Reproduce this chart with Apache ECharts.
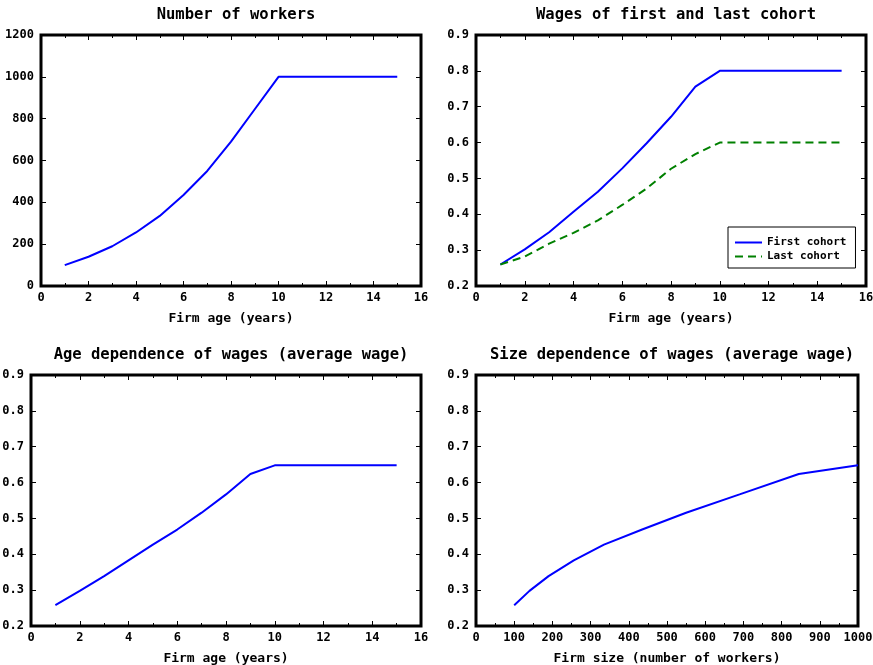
<!DOCTYPE html>
<html><head><meta charset="utf-8">
<script src="https://cdn.jsdelivr.net/npm/echarts@6/dist/echarts.min.js"></script>
<style>html,body{margin:0;padding:0;background:#fff}#c{width:873px;height:665px}</style>
</head><body><div id="c"></div>
<script>
const age = [1,2,3,4,5,6,7,8,9,10,11,12,13,14,15];
const workers = [100,140,190,256,335,435,550,690,845,1000,1000,1000,1000,1000,1000];
const wageFirst = [0.26,0.302,0.35,0.407,0.463,0.528,0.598,0.672,0.756,0.8,0.8,0.8,0.8,0.8,0.8];
const wageLast = [0.26,0.282,0.318,0.348,0.383,0.426,0.472,0.527,0.568,0.6,0.6,0.6,0.6,0.6,0.6];
const wageAvg = [0.258,0.298,0.339,0.383,0.427,0.469,0.516,0.567,0.624,0.648,0.648,0.648,0.648,0.648,0.648];
const titles = ['Number of workers','Wages of first and last cohort','Age dependence of wages (average wage)','Size dependence of wages (average wage)'];
const xNames = ['Firm age (years)','Firm age (years)','Firm age (years)','Firm size (number of workers)'];

const FONT = 'DejaVu Sans Mono';
const pairs = (a,b) => a.map((v,i)=>[v,b[i]]);

const grids = [
  {left:41, top:35, width:380, height:251},
  {left:476, top:35, width:390, height:251},
  {left:31, top:375, width:390, height:251},
  {left:476, top:375, width:382, height:251}
];
const xCfg = [
  {min:0,max:16,interval:2},
  {min:0,max:16,interval:2},
  {min:0,max:16,interval:2},
  {min:0,max:1000,interval:100}
];
const yCfg = [
  {min:0,max:1200,interval:200},
  {min:0.2,max:0.9,interval:0.1},
  {min:0.2,max:0.9,interval:0.1},
  {min:0.2,max:0.9,interval:0.1}
];
const titleCenters = [[231,2],[671,2],[226,342],[667,342]];

const grid=[], xAxis=[], yAxis=[], title=[];
grids.forEach((g,i)=>{
  grid.push(Object.assign({show:true,borderColor:'#000',borderWidth:3,backgroundColor:'#fff',containLabel:false,outerBoundsMode:'none'},g));
  title.push({text:titles[i],left:titleCenters[i][0],top:titleCenters[i][1],textAlign:'center',
    textStyle:{fontFamily:FONT,fontWeight:'bold',fontSize:15.5,color:'#000'}});
  const base = (pos,show)=>Object.assign({
    type:'value',gridIndex:i,position:pos,
    axisLine:{show:false,onZero:false},
    axisTick:{show:true,inside:true,length:5,lineStyle:{color:'#000',width:1}},
    minorTick:{show:true,splitNumber:2,length:3,lineStyle:{color:'#000',width:1}},
    splitLine:{show:false},
    axisLabel:{show:show,color:'#000',fontFamily:FONT,fontWeight:'bold',fontSize:12,margin:6,showMinLabel:true,showMaxLabel:true,
      formatter: v => String(v)}
  }, xCfg[i]);
  const bx = base('bottom',true);
  bx.name = xNames[i]; bx.nameLocation='middle'; bx.nameGap=26;
  bx.nameTextStyle={color:'#000',fontFamily:FONT,fontWeight:'bold',fontSize:13};
  xAxis.push(bx);
  xAxis.push(base('top',false));
  const by = (pos,show)=>Object.assign({
    type:'value',gridIndex:i,position:pos,
    axisLine:{show:false,onZero:false},
    axisTick:{show:true,inside:true,length:5,lineStyle:{color:'#000',width:1}},
    splitLine:{show:false},
    axisLabel:{show:show,color:'#000',fontFamily:FONT,fontWeight:'bold',fontSize:12,margin:7,showMinLabel:true,showMaxLabel:true,
      formatter: v => (yCfg[i].interval<1 ? v.toFixed(1) : String(v))}
  }, yCfg[i]);
  yAxis.push(by('left',true));
  yAxis.push(by('right',false));
});

const line = (name,xi,yi,data,color,type)=>({
  name:name,type:'line',xAxisIndex:xi,yAxisIndex:yi,data:data,symbol:'none',showSymbol:false,silent:true,
  lineStyle:{color:color,width:2,type:type||'solid'},itemStyle:{color:color}
});

const option = {
  animation:false,
  backgroundColor:'#fff',
  title:title,
  grid:grid, xAxis:xAxis, yAxis:yAxis,
  legend:{
    orient:'vertical',left:728,top:227,
    backgroundColor:'#fff',borderColor:'#000',borderWidth:1,borderRadius:0,
    padding:[10,9,6,6],itemGap:3,itemWidth:27,itemHeight:12,
    itemStyle:{opacity:0},
    data:['First cohort','Last cohort'],
    textStyle:{color:'#000',fontFamily:FONT,fontWeight:'bold',fontSize:11}
  },
  series:[
    line('workers',0,0,pairs(age,workers),'#0000ff'),
    line('First cohort',2,2,pairs(age,wageFirst),'#0000ff'),
    line('Last cohort',2,2,pairs(age,wageLast),'#008000',[8,5]),
    line('avg age',4,4,pairs(age,wageAvg),'#0000ff'),
    line('avg size',6,6,pairs(workers,wageAvg),'#0000ff')
  ]
};
echarts.init(document.getElementById('c'),null,{renderer:'canvas'}).setOption(option);
</script></body></html>
